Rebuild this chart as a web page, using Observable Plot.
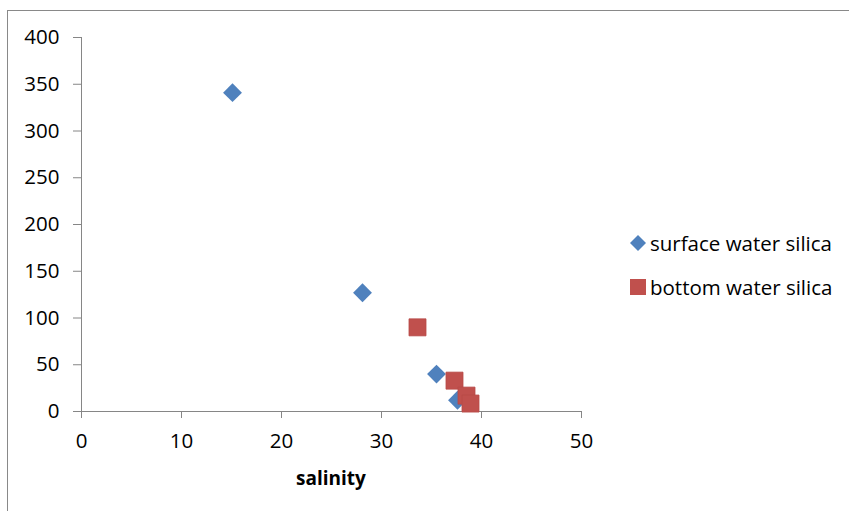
<!DOCTYPE html>
<html><head><meta charset="utf-8">
<script src="https://cdn.jsdelivr.net/npm/d3@7"></script>
<script src="https://cdn.jsdelivr.net/npm/@observablehq/plot@0.6"></script>
<style>
body{margin:0;background:#fff;}
#wrap{position:relative;width:849px;height:511px;overflow:hidden;font-family:"Open Sans",sans-serif;}
#frame{position:absolute;left:7px;top:10px;width:900px;height:600px;border:1px solid #898989;}
#chart{position:absolute;left:0;top:0;}
.leg{position:absolute;left:628px;font-size:20.5px;color:#000;display:flex;align-items:center;white-space:nowrap;}
.xlabel{position:absolute;left:331px;top:478px;transform:translate(-50%,-50%);font-weight:bold;font-size:19px;}
</style></head>
<body><div id="wrap"><div id="frame"></div><div id="chart"></div><div id="legend"></div></div>
<script>
const surfaceSalinity = [15.1, 28.1, 35.5, 37.6];
const surfaceSilica   = [341, 127, 40, 12];
const bottomSalinity  = [33.6, 37.3, 38.5, 38.9];
const bottomSilica    = [90, 33, 17, 8.5];
const xTicks = [0, 10, 20, 30, 40, 50];
const yTicks = [0, 50, 100, 150, 200, 250, 300, 350, 400];
const seriesNames = ["surface water silica", "bottom water silica"];
const colors = ["#4F81BD", "#C0504D"];
const xTitle = "salinity";

const surface = surfaceSalinity.map((s, i) => ({x: s, y: surfaceSilica[i]}));
const bottom = bottomSalinity.map((s, i) => ({x: s, y: bottomSilica[i]}));

const axisColor = "#868686";
const chart = Plot.plot({
  width: 849, height: 511,
  marginLeft: 81, marginRight: 268, marginTop: 37, marginBottom: 100,
  style: {fontFamily: "'Open Sans', sans-serif", fontSize: "20.5px", color: "#000", background: "transparent"},
  x: {domain: [0, 50]},
  y: {domain: [0, 400]},
  marks: [
    Plot.axisY(yTicks, {tickSize: 8, tickPadding: 14, stroke: axisColor, fontSize: 20.5, label: null}),
    Plot.axisX(xTicks, {tickSize: 7, tickPadding: 15, stroke: axisColor, fontSize: 20.5, label: null}),
    Plot.ruleX([0], {stroke: axisColor}),
    Plot.ruleY([0], {stroke: axisColor}),
    Plot.dot(surface, {x: "x", y: "y", symbol: "diamond2", r: 8.5, fill: colors[0], stroke: "none"}),
    Plot.dot(bottom, {x: "x", y: "y", symbol: "square", r: 9.6, fill: colors[1], stroke: "#B84A47", strokeWidth: 0.8})
  ]
});
document.getElementById("chart").appendChild(chart);

const legend = document.getElementById("legend");
const sw = [
  `<svg width="20" height="20"><path d="M10,2 L18,10 L10,18 L2,10Z" fill="${colors[0]}"/></svg>`,
  `<svg width="20" height="20"><rect x="2" y="2" width="16" height="16" fill="${colors[1]}"/></svg>`
];
const tops = [243, 287];
seriesNames.forEach((n, i) => {
  const d = document.createElement("div");
  d.className = "leg";
  d.style.top = tops[i] + "px";
  d.style.transform = "translateY(-50%)";
  d.innerHTML = sw[i] + `<span style="margin-left:2px">${n}</span>`;
  legend.appendChild(d);
});
const xl = document.createElement("div");
xl.className = "xlabel";
xl.textContent = xTitle;
document.getElementById("wrap").appendChild(xl);
</script>
</body></html>
